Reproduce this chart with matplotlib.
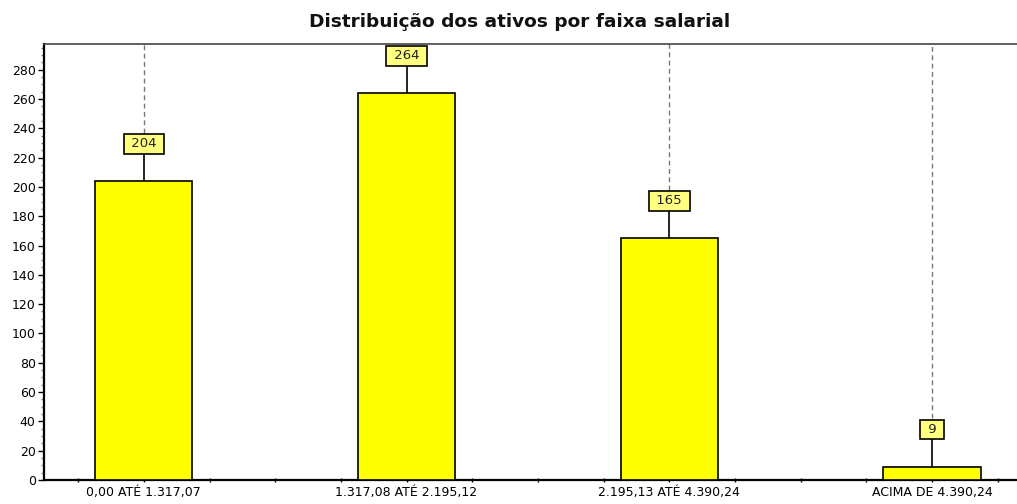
import matplotlib.pyplot as plt
from matplotlib.ticker import MultipleLocator
import numpy as np

categories = ['0,00 ATÉ 1.317,07', '1.317,08 ATÉ 2.195,12', '2.195,13 ATÉ 4.390,24', 'ACIMA DE 4.390,24']
values = [204, 264, 165, 9]

plt.rcParams['font.family'] = ['DejaVu Sans']

fig = plt.figure(figsize=(10.17, 5.04), dpi=100)
W, H = 1017, 504
# axes spans past the right edge of the picture, like the original
ax = fig.add_axes([44 / W, 1 - 480 / H, (1030 - 44) / W, (480 - 44) / H])

x = np.arange(len(categories))
ax.bar(x, values, width=0.37, color='#FFFF00', edgecolor='black', linewidth=1.2, zorder=3)

ymax = 297.5
ax.set_ylim(0, ymax)
ax.set_xlim(-0.38, 3.373)

for xi, v in zip(x, values):
    # connector, label box and dashed guide up to the top
    ax.plot([xi, xi], [v, v + 18.5], color='black', lw=1.2, zorder=2)
    ax.text(xi, v + 25.5, f' {v} ', ha='center', va='center', fontsize=9.5, color='#222222',
            bbox=dict(boxstyle='square,pad=0.26', fc='#FFFF80', ec='black', lw=1.2), zorder=4)
    ax.plot([xi, xi], [v + 33, ymax], color='#777777', lw=1, ls=(0, (3.5, 2.5)), zorder=1)

ax.set_xticks(x)
ax.set_xticklabels(categories, fontsize=9)
ax.set_xticks(np.arange(-0.25, 3.4, 0.25), minor=True)
ax.tick_params(axis='x', which='both', length=3, width=1, direction='inout', pad=3)

ax.yaxis.set_major_locator(MultipleLocator(20))
ax.yaxis.set_minor_locator(MultipleLocator(5))
ax.set_yticks(np.arange(0, 281, 20))
ax.tick_params(axis='y', which='major', length=4, width=1, labelsize=9, pad=2)
ax.tick_params(axis='y', which='minor', length=2, width=1, color='#888888')

for side in ['left', 'bottom']:
    ax.spines[side].set_linewidth(1.6)
    ax.spines[side].set_color('black')
ax.spines['top'].set_linewidth(1.2)
ax.spines['top'].set_color('#444444')
ax.spines['right'].set_visible(False)

fig.text(520 / W, 1 - 22 / H, 'Distribuição dos ativos por faixa salarial', ha='center', va='center',
         fontsize=13.3, fontweight='bold', color='#111111')

fig.savefig('out.png', dpi=100, facecolor='white')
